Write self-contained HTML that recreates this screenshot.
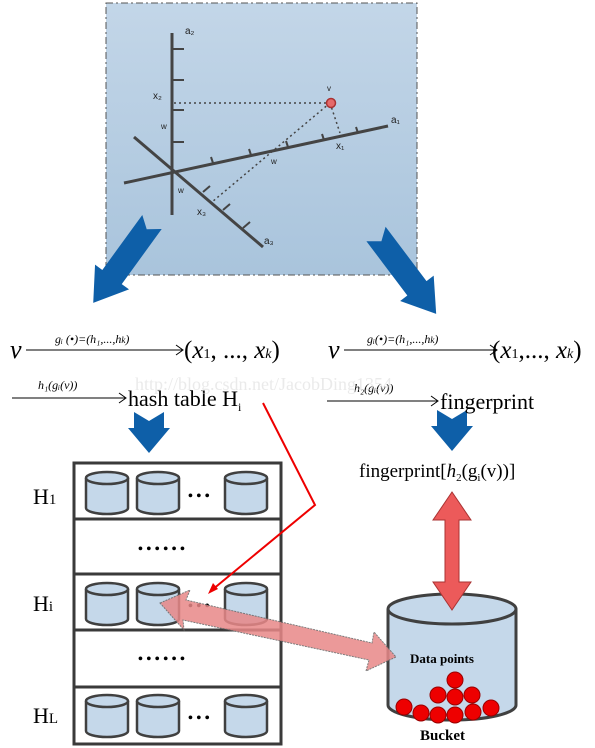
<!DOCTYPE html>
<html><head><style>
body{margin:0;background:#fff;}
svg{display:block}
text{font-family:"Liberation Serif",serif}
.s{font-family:"Liberation Sans",sans-serif}
</style></head><body>
<svg width="595" height="748" viewBox="0 0 595 748" xmlns="http://www.w3.org/2000/svg">
<defs>
<linearGradient id="bg" x1="0" y1="0" x2="0" y2="1">
<stop offset="0" stop-color="#c3d6e8"/><stop offset="1" stop-color="#a9c4dc"/></linearGradient>
<g id="cyl"><path d="M0,6 v30 a21,6 0 0 0 42,0 v-30" fill="#c5d8ea" stroke="#404040" stroke-width="2.5"/><ellipse cx="21" cy="6" rx="21" ry="6" fill="#c5d8ea" stroke="#404040" stroke-width="2.5"/></g>
<polygon id="barr" points="-12,0 0,9 12,0 12,68 21,68 0,100 -21,68 -12,68" fill="#0e5fa8"/>
</defs>
<rect x="106" y="3" width="311" height="272" fill="url(#bg)" stroke="#555" stroke-dasharray="7,3,2,3"/>
<g stroke="#444" stroke-width="3" fill="none">
<line x1="172" y1="33" x2="172" y2="215"/>
<line x1="124" y1="183" x2="388" y2="126"/>
<line x1="134" y1="137" x2="263" y2="247"/>
<g stroke-width="2"><line x1="172" y1="49" x2="184" y2="49"/><line x1="172" y1="80" x2="184" y2="80"/><line x1="172" y1="110" x2="184" y2="110"/><line x1="172" y1="142" x2="184" y2="142"/>
<line x1="213" y1="163" x2="211" y2="157"/><line x1="251" y1="155" x2="249" y2="149"/><line x1="288" y1="147" x2="286" y2="141"/><line x1="324" y1="140" x2="322" y2="134"/><line x1="358" y1="133" x2="356" y2="127"/>
<line x1="203" y1="192" x2="210" y2="186"/><line x1="223" y1="210" x2="230" y2="204"/><line x1="243" y1="228" x2="250" y2="222"/></g>
</g>
<g stroke="#444" stroke-width="1.5" stroke-dasharray="2,3" fill="none">
<line x1="174" y1="103" x2="330" y2="103"/><line x1="330" y1="103" x2="340" y2="133"/><line x1="330" y1="103" x2="212" y2="202"/></g>
<circle cx="331" cy="103" r="4.5" fill="#e56a6a" stroke="#a33" stroke-width="1.5"/>
<g fill="#222">
<text x="185" y="34" class="s" font-size="10">a₂</text><text x="153" y="99" class="s" font-size="10">x₂</text><text x="161" y="129" font-size="8" class="s">w</text>
<text x="327" y="91" font-size="8" class="s">v</text><text x="391" y="123" class="s" font-size="10">a₁</text><text x="336" y="149" class="s" font-size="10">x₁</text>
<text x="271" y="164" font-size="8" class="s">w</text><text x="178" y="193" font-size="8" class="s">w</text><text x="197" y="215" class="s" font-size="10">x₃</text><text x="264" y="244" class="s" font-size="10">a₃</text></g>
<use href="#barr" transform="translate(152,222) rotate(36)"/>
<use href="#barr" transform="translate(376,234) rotate(-37)"/>
<g fill="#0e5fa8">
<polygon points="134,412 149,421 164,412 164,428 170,428 149,453 128,428 134,428"/>
<polygon points="437,410 452,419 467,410 467,426 473,426 452,451 431,426 437,426"/>
</g>
<g fill="#000">
<text x="10" y="358" font-size="26" font-style="italic">v</text>
<line x1="26" y1="350" x2="182" y2="350" stroke="#000"/><polyline points="176,345 183,350 176,355" fill="none" stroke="#000"/>
<text x="55" y="343" font-size="12" font-style="italic">gᵢ (•)=(h₁,...,h<tspan font-size="9">k</tspan>)</text>
<text x="184" y="358" font-size="25">(<tspan font-style="italic">x</tspan><tspan font-size="14">1</tspan>, ..., <tspan font-style="italic">x</tspan><tspan font-size="14" font-style="italic">k</tspan>)</text>
<text x="328" y="358" font-size="26" font-style="italic">v</text>
<line x1="344" y1="350" x2="496" y2="350" stroke="#000"/><polyline points="490,345 497,350 490,355" fill="none" stroke="#000"/>
<text x="367" y="343" font-size="12" font-style="italic">gᵢ(•)=(h₁,...,h<tspan font-size="9">k</tspan>)</text>
<text x="492" y="358" font-size="25">(<tspan font-style="italic">x</tspan><tspan font-size="14">1</tspan>,..., <tspan font-style="italic">x</tspan><tspan font-size="14" font-style="italic">k</tspan>)</text>
<line x1="12" y1="398" x2="125" y2="398" stroke="#000"/><polyline points="119,393 126,398 119,403" fill="none" stroke="#000"/>
<text x="38" y="389" font-size="12" font-style="italic">h₁(gᵢ(v))</text>
<text x="128" y="406" font-size="22">hash table H<tspan font-size="12" dy="5">i</tspan></text>
<line x1="327" y1="401" x2="437" y2="401" stroke="#000"/><polyline points="431,396 438,401 431,406" fill="none" stroke="#000"/>
<text x="354" y="392" font-size="12" font-style="italic">h₂(gᵢ(v))</text>
<text x="440" y="409" font-size="22">fingerprint</text>
<text x="359" y="477" font-size="19">fingerprint[<tspan font-style="italic">h</tspan><tspan font-size="11" dy="4">2</tspan><tspan dy="-4">(g</tspan><tspan font-size="11" dy="4">i</tspan><tspan dy="-4">(v))]</tspan></text>
</g>
<text x="135" y="390" font-size="18" fill="#ddd" opacity="0.6" font-family="Liberation Mono,monospace">http://blog.csdn.net/JacobDing1354</text>
<g stroke="#3a3a3a" stroke-width="3" fill="#fff">
<rect x="74" y="463" width="207" height="56"/><rect x="74" y="519" width="207" height="55"/><rect x="74" y="574" width="207" height="56"/><rect x="74" y="630" width="207" height="57"/><rect x="74" y="687" width="207" height="57"/>
</g>
<g font-size="22" fill="#000"><text x="33" y="504">H<tspan font-size="15">1</tspan></text><text x="33" y="611">H<tspan font-size="15">i</tspan></text><text x="33" y="723">H<tspan font-size="15">L</tspan></text></g>
<use href="#cyl" x="86" y="472"/><use href="#cyl" x="137" y="472"/><use href="#cyl" x="225" y="472"/>
<use href="#cyl" x="86" y="583"/><use href="#cyl" x="137" y="583"/><use href="#cyl" x="225" y="583"/>
<use href="#cyl" x="86" y="695"/><use href="#cyl" x="137" y="695"/><use href="#cyl" x="225" y="695"/>
<g fill="#000" font-size="14" font-weight="bold">
<text x="188" y="500">• • •</text><text x="188" y="610">• • •</text><text x="188" y="722">• • •</text>
<text x="138" y="553">• • • • • •</text><text x="138" y="663">• • • • • •</text></g>
<polyline points="263,403 315,505 212,590" fill="none" stroke="#e00" stroke-width="2"/>
<polygon points="208,594 213,583 218,589" fill="#e00"/>
<path d="M388,609 v96 a64,15 0 0 0 128,0 v-96" fill="#c5d8ea" stroke="#404040" stroke-width="3"/>
<ellipse cx="452" cy="609" rx="64" ry="15" fill="#c5d8ea" stroke="#404040" stroke-width="3"/>
<polygon points="452,492 471,520 459,520 459,582 471,582 452,610 433,582 445,582 445,520 433,520" fill="#ec5a5a" stroke="#a33"/>
<polygon points="160,603 190,590 186,600 372,643 374,632 396,657 366,671 369,660 183,620 184,630" fill="#e88888" opacity="0.85" stroke="#666" stroke-dasharray="2,1"/>
<text x="410" y="663" font-size="13" font-weight="bold" font-family="Liberation Mono,monospace">Data points</text>
<g fill="#e00" stroke="#900"><circle cx="455" cy="680" r="8"/><circle cx="438" cy="695" r="8"/><circle cx="455" cy="697" r="8"/><circle cx="472" cy="695" r="8"/><circle cx="404" cy="707" r="8"/><circle cx="421" cy="713" r="8"/><circle cx="438" cy="715" r="8"/><circle cx="455" cy="715" r="8"/><circle cx="473" cy="712" r="8"/><circle cx="491" cy="708" r="8"/></g>
<text x="420" y="740" font-size="15" font-weight="bold" font-family="Liberation Mono,monospace">Bucket</text>
</svg>
</body></html>
